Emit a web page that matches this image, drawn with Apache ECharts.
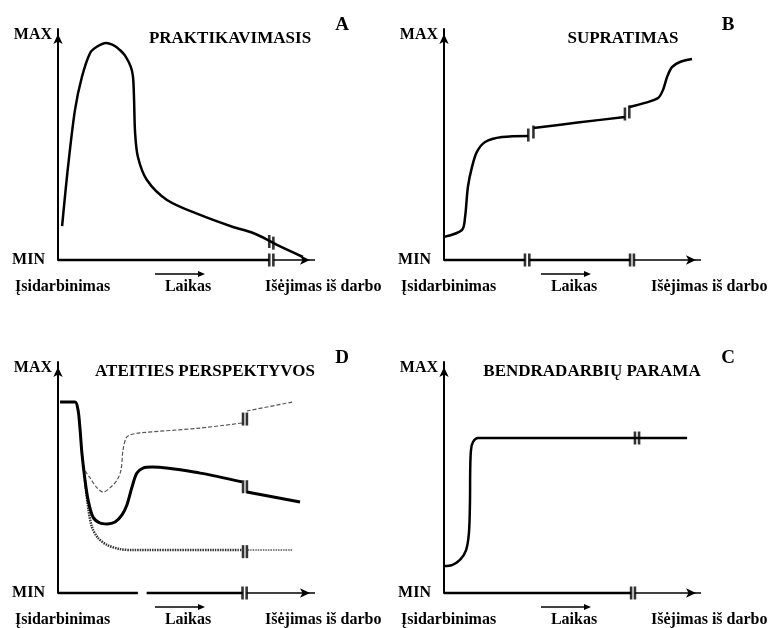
<!DOCTYPE html>
<html>
<head>
<meta charset="utf-8">
<script src="https://cdn.jsdelivr.net/npm/echarts@6/dist/echarts.min.js"></script>
<style>
  html, body { margin: 0; padding: 0; background: #fff; }
  #chart { width: 775px; height: 628px; }
</style>
</head>
<body>
<div id="chart"></div>
<script>
// x: time 0..100 (hiring -> leaving), y: 0 = MIN, 100 = MAX

// A - PRAKTIKAVIMASIS
const praktikavimas = [[1.6, 14.7], [3.9, 40.3], [6.6, 64.9], [9.3, 79.2], [12.5, 89.6], [15.1, 92.3], [18.7, 93.9],
  [22.2, 92.6], [24.1, 90.9], [26.1, 88.5], [28.3, 83.7], [29.2, 79.2], [29.6, 69.3], [30.0, 55.0], [31.1, 44.6],
  [34.6, 34.6], [42.4, 26.0], [55.3, 19.5], [68.1, 14.3], [75.9, 11.7], [82.5, 8.2], [85.2, 6.5], [95.3, 1.3]];

// B - SUPRATIMAS (three pieces, separated by breaks)
const supratimas1 = [[0, 10.0], [7.0, 13.0], [8.2, 18.6], [9.3, 31.6], [10.9, 40.3], [12.8, 46.8], [16.0, 51.1],
  [22.6, 53.2], [32.8, 53.7]];
const supratimas2 = [[34.8, 57.1], [52.0, 59.5], [70.4, 61.9]];
const supratimas3 = [[72.1, 66.2], [78.2, 68.0], [83.3, 70.1], [85.2, 73.6], [86.8, 79.2], [88.7, 83.5],
  [91.8, 85.7], [96.5, 87.0]];

// D - ATEITIES PERSPEKTYVOS
const perspektyvos1 = [[0.8, 82.7], [6.6, 82.7], [7.8, 79.2], [8.6, 70.6], [9.3, 60.6], [10.5, 48.9], [11.7, 40.3],
  [13.6, 32.9], [16.3, 30.3], [19.1, 29.9], [22.2, 30.7], [24.9, 33.8], [26.8, 38.1], [28.8, 45.9], [30.7, 51.9],
  [33.1, 54.1], [36.6, 54.5], [55.3, 51.9], [71.6, 48.1]];
const perspektyvos2 = [[73.5, 43.7], [94.2, 39.4]];
const geriausia1 = [[9.3, 60.6], [10.5, 53.2], [12.5, 49.8], [15.2, 45.5], [17.5, 43.7], [20.2, 45.5], [23.0, 48.9],
  [24.5, 53.2], [25.3, 61.9], [26.5, 67.1], [28.0, 68.4], [31.9, 69.3], [55.3, 71.4], [71.6, 73.6]];
const geriausia2 = [[73.5, 78.8], [91.4, 82.7]];
const blogiausia1 = [[10.5, 48.9], [11.7, 37.2], [13.2, 28.6], [15.6, 23.8], [19.1, 20.8], [24.1, 19.0],
  [29.2, 18.6], [71.6, 18.6]];
const blogiausia2 = [[73.9, 18.6], [91.4, 18.6]];

// C - BENDRADARBIŲ PARAMA
const parama = [[0, 11.7], [3.1, 12.1], [6.2, 14.3], [8.6, 18.6], [9.7, 26.0], [10.1, 39.0], [10.2, 53.2],
  [10.5, 61.9], [11.3, 65.4], [13.2, 67.1], [16.0, 67.1], [73.5, 67.1], [94.6, 67.1]];

// time axis pieces [from, to]
const axisThickA = [[0, 82.2]], axisThinA = [[83.8, 100]];
const axisThickB = [[0, 31.5], [33.2, 72.4]], axisThinB = [[73.9, 100]];
const axisThickD = [[0, 31.1], [34.5, 71.8]], axisThinD = [[73.4, 100]];
const axisThickC = [[0, 72.8]], axisThinC = [[74.3, 100]];

// break marks (short vertical bars) [x, y]
const breaksA = [[82.2, 8.0], [83.8, 7.3], [82.2, 0], [83.8, 0]];
const breaksB = [[32.8, 54.1], [34.8, 55.4], [70.4, 63.2], [72.1, 64.1], [31.5, 0], [33.2, 0], [72.4, 0], [73.9, 0]];
const breaksD = [[72.0, 75.3], [73.5, 75.3], [72.0, 46.0], [73.5, 46.0], [72.0, 17.9], [73.5, 17.9], [71.8, 0], [73.4, 0]];
const breaksC = [[74.3, 67.1], [75.9, 67.1], [72.8, 0], [74.3, 0]];

const titles = ['PRAKTIKAVIMASIS', 'SUPRATIMAS', 'ATEITIES PERSPEKTYVOS', 'BENDRADARBIŲ PARAMA'];
const letters = ['A', 'B', 'D', 'C'];
const startLabel = 'Įsidarbinimas';
const timeLabel = 'Laikas';
const endLabel = 'Išėjimas iš darbo';

const FONT = '"Liberation Serif", "DejaVu Serif", serif';

// grid boxes: A top-left, B top-right, D bottom-left, C bottom-right
const boxes = [
  { left: 58, top: 29, titleX: 172 },
  { left: 444, top: 29, titleX: 179 },
  { left: 58, top: 362, titleX: 147 },
  { left: 444, top: 362, titleX: 148 }
];
const W = 257, H = 231;

function curve(gi, data, style) {
  return {
    type: 'line', xAxisIndex: gi, yAxisIndex: gi, data: data,
    smooth: 0.3, symbol: 'none', clip: false, silent: true,
    lineStyle: Object.assign({ color: '#000', width: 2.5 }, style || {})
  };
}

function axisPieces(gi, thick, thin) {
  const out = [];
  thick.forEach(s => out.push({
    type: 'line', xAxisIndex: gi, yAxisIndex: gi, symbol: 'none', clip: false, silent: true,
    data: [[s[0], 0], [s[1], 0]], lineStyle: { color: '#000', width: 2.6 }
  }));
  thin.forEach(s => out.push({
    type: 'line', xAxisIndex: gi, yAxisIndex: gi, symbol: 'none', clip: false, silent: true,
    data: [[s[0], 0], { value: [s[1], 0], symbol: 'arrow', symbolSize: [7, 10], symbolRotate: -90, symbolOffset: [-5, 0] }],
    lineStyle: { color: '#000', width: 1.4 }, itemStyle: { color: '#000' }
  }));
  return out;
}

function breakMarks(gi, data) {
  return {
    type: 'scatter', xAxisIndex: gi, yAxisIndex: gi, data: data, silent: true, clip: false,
    symbol: 'rect', symbolSize: [2.6, 13], itemStyle: { color: '#000' }, z: 5
  };
}

const series = [].concat(
  curve(0, praktikavimas),
  axisPieces(0, axisThickA, axisThinA),
  breakMarks(0, breaksA),

  curve(1, supratimas1), curve(1, supratimas2), curve(1, supratimas3),
  axisPieces(1, axisThickB, axisThinB),
  breakMarks(1, breaksB),

  curve(2, geriausia1, { color: '#555', width: 1.2, type: [4, 2] }),
  curve(2, geriausia2, { color: '#555', width: 1.2, type: [4, 2] }),
  curve(2, blogiausia1, { color: '#333', width: 2.5, type: [1.5, 1] }),
  curve(2, blogiausia2, { color: '#555', width: 1.5, type: [1.5, 1] }),
  curve(2, perspektyvos1, { width: 3 }), curve(2, perspektyvos2, { width: 3 }),
  axisPieces(2, axisThickD, axisThinD),
  breakMarks(2, breaksD),

  curve(3, parama),
  axisPieces(3, axisThickC, axisThinC),
  breakMarks(3, breaksC)
);

function text(str, x, y, size, align) {
  return {
    type: 'text', x: x, y: y, silent: true,
    style: {
      text: str, fill: '#000', font: 'bold ' + size + 'px ' + FONT,
      textAlign: align || 'left', textVerticalAlign: 'middle', align: align || 'left', verticalAlign: 'middle'
    }
  };
}

function timeArrow(x1, x2, y) {
  return {
    type: 'group', silent: true,
    children: [
      { type: 'line', shape: { x1: x1, y1: y, x2: x2 - 4, y2: y }, style: { stroke: '#000', lineWidth: 1.3 } },
      { type: 'polygon', shape: { points: [[x2, y], [x2 - 7, y - 3], [x2 - 7, y + 3]] }, style: { fill: '#000' } }
    ]
  };
}

const graphic = [];
boxes.forEach((b, i) => {
  const x0 = b.left, y0 = b.top;
  graphic.push(text('MAX', x0 - 6, y0 + 6, 16, 'right'));
  graphic.push(text('MIN', x0 - 13, y0 + H, 16, 'right'));
  graphic.push(text(titles[i], x0 + b.titleX, y0 + 10, 17, 'center'));
  graphic.push(text(letters[i], x0 + 284, y0 - 4, 19, 'center'));
  graphic.push(text(startLabel, x0 - 43, y0 + H + 27, 16));
  graphic.push(text(timeLabel, x0 + 130, y0 + H + 27, 16, 'center'));
  graphic.push(text(endLabel, x0 + 207, y0 + H + 27, 16));
  graphic.push(timeArrow(x0 + 97, x0 + 147, y0 + H + 14));
});

const option = {
  backgroundColor: '#fff',
  animation: false,
  grid: boxes.map(b => ({ left: b.left, top: b.top, width: W, height: H })),
  xAxis: boxes.map((b, i) => ({ type: 'value', gridIndex: i, min: 0, max: 100, show: false })),
  yAxis: boxes.map((b, i) => ({
    type: 'value', gridIndex: i, min: 0, max: 100,
    axisLine: {
      show: true, symbol: ['none', 'arrow'], symbolSize: [7, 10], symbolOffset: [0, -5],
      lineStyle: { color: '#000', width: 2 }
    },
    axisTick: { show: false }, axisLabel: { show: false }, splitLine: { show: false }
  })),
  series: series,
  graphic: graphic
};

const chart = echarts.init(document.getElementById('chart'), null, { renderer: 'canvas' });
chart.setOption(option);
</script>
</body>
</html>
